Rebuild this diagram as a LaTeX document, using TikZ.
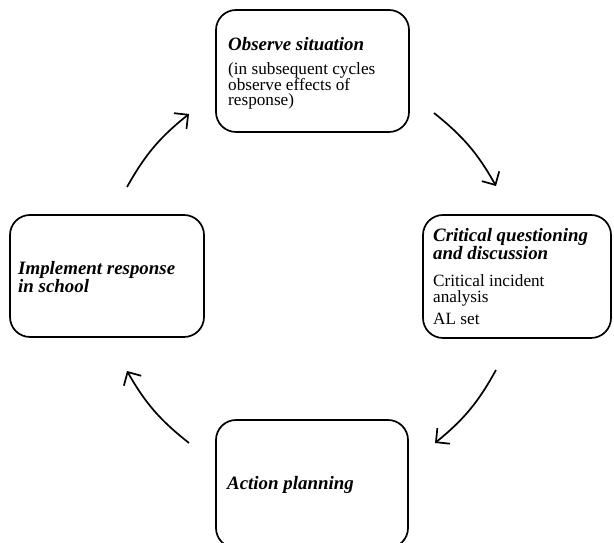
\documentclass[tikz,border=0pt]{standalone}
\usepackage{fontspec}
\setmainfont{Liberation Serif}
\usetikzlibrary{arrows.meta}
\begin{document}
\begin{tikzpicture}[x=1pt,y=1pt,
  cyclebox/.style={draw, line width=1.7pt, rounded corners=20pt, inner sep=0pt},
  heading/.style={anchor=base west, inner sep=0pt, font=\fontsize{18.9}{18}\selectfont\bfseries\itshape},
  bodytext/.style={anchor=base west, inner sep=0pt, font=\fontsize{17.2}{16}\selectfont},
  cyclearrow/.style={line width=1.7pt, -{Straight Barb[length=10pt,width=20pt,line width=1.7pt]}}]
\useasboundingbox (0,0) rectangle (614,543);
\clip (0,0) rectangle (614,543);
% boxes
\node[cyclebox, minimum width=193pt, minimum height=122pt] (observe) at (312.5,472) {};
\node[cyclebox, minimum width=188pt, minimum height=123pt] (critical) at (517,266.5) {};
\node[cyclebox, minimum width=194pt, minimum height=122pt] (implement) at (107,267) {};
\node[cyclebox, minimum width=192pt, minimum height=128pt] (action) at (312,59) {};
% texts
\node[heading] (t1) at (228,492) {Observe situation};
\node[bodytext] (t2) at (228,468) {(in subsequent cycles};
\node[bodytext] (t3) at (228,452.5) {observe effects of};
\node[bodytext] (t4) at (228,437) {response)};
\node[heading] (r1) at (433,301) {Critical questioning};
\node[heading] (r2) at (433,283) {and discussion};
\node[bodytext] (r3) at (433,256) {Critical incident};
\node[bodytext] (r4) at (433,240) {analysis};
\node[bodytext] (r5) at (433,218) {AL set};
\node[heading] (l1) at (18,268) {Implement response};
\node[heading] (l2) at (18,250) {in school};
\node[heading] (b1) at (227,53) {Action planning};
% arrow ends
\coordinate (a1s) at (127,356);
\coordinate (a1e) at (189,429);
\coordinate (a2s) at (434,430);
\coordinate (a2e) at (496,357);
\coordinate (a3s) at (496,173);
\coordinate (a3e) at (435,100);
\coordinate (a4s) at (189,100);
\coordinate (a4e) at (127,172);
\draw[cyclearrow] (a1s) to[bend left=11] (a1e);
\draw[cyclearrow] (a2s) to[bend left=11] (a2e);
\draw[cyclearrow] (a3s) to[bend left=11] (a3e);
\draw[cyclearrow] (a4s) to[bend left=11] (a4e);
\end{tikzpicture}
\end{document}
